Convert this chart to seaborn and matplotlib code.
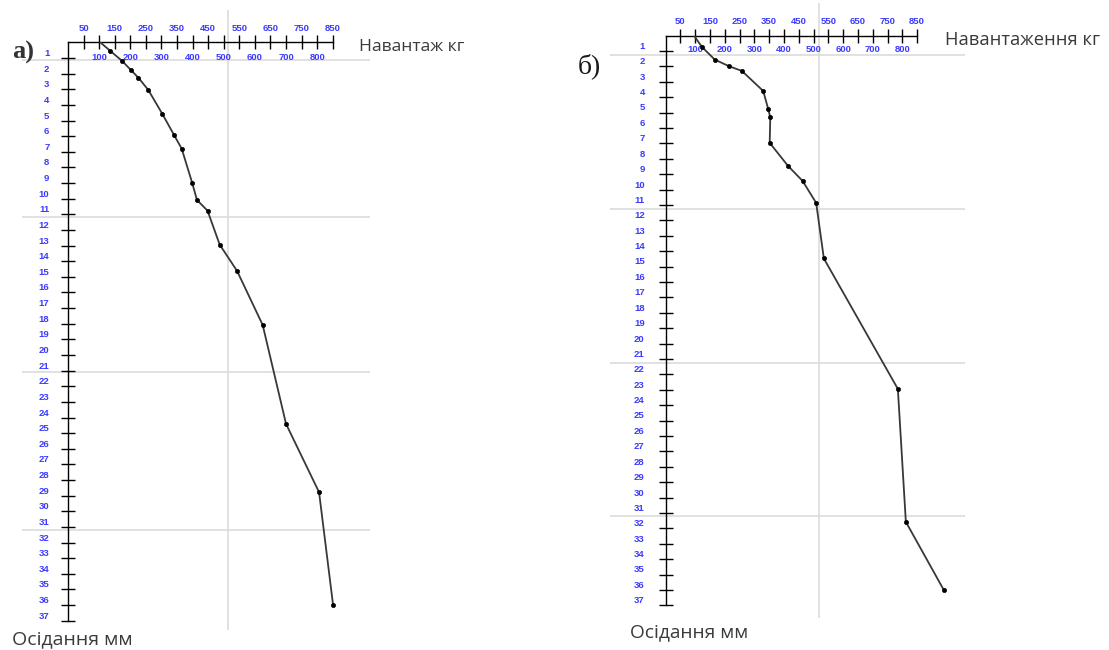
import pandas as pd
import seaborn as sns
import matplotlib.pyplot as plt

# panel а) - load (kg) vs settlement (mm)
load_a = [104, 136, 174, 202, 226, 258, 303, 340, 365, 399, 414, 448, 487, 543, 625, 700, 806, 851]
settle_a = [0, 0.55, 1.19, 1.77, 2.26, 3.05, 4.58, 5.91, 6.80, 9.01, 10.08, 10.77, 12.94,
            14.63, 18.08, 24.41, 28.78, 36.0]

# panel б)
load_b = [96, 123, 166, 214, 258, 330, 347, 354, 352, 414, 463, 509, 535, 785, 812, 940]
settle_b = [0, 0.74, 1.56, 1.99, 2.30, 3.60, 4.77, 5.32, 6.97, 8.47, 9.44, 10.87, 14.48,
            22.95, 31.58, 36.0]

# axis ticks: odd multiples of 50 labelled above the axis, even ones below
load_ticks_top = list(range(50, 851, 100))
load_ticks_below = list(range(100, 801, 100))
settle_ticks = list(range(1, 38))

# light grey page grid lines seen behind both charts
grid_a_h = [1.13, 11.2, 21.1, 31.2]
grid_a_v = [515]
grid_b_h = [1.28, 11.28, 21.27, 31.2]
grid_b_v = [517]

W, H = 1109, 650
BLUE = '#3b3bff'

sns.set_style('white')
plt.rcParams['font.family'] = ['Open Sans', 'DejaVu Sans']

fig = plt.figure(figsize=(W / 100, H / 100), dpi=100)


def rect(left, top, kx, ky, xmax=1000, ymax=38):
    w = xmax * kx
    h = ymax * ky
    return [left / W, 1 - (top + h) / H, w / W, h / H]


def draw_panel(ax, load, settle, gh, gv, hspan, vspan, pads):
    ax.set_xlim(0, 1000)
    ax.set_ylim(38, 0)

    ax.hlines(gh, hspan[0], hspan[1], color='#dcdcdc', lw=1.2, clip_on=False, zorder=0)
    ax.vlines(gv, vspan[0], vspan[1], color='#dcdcdc', lw=1.2, clip_on=False, zorder=0)

    df = pd.DataFrame({'load': load, 'settle': settle})
    sns.lineplot(data=df, x='load', y='settle', sort=False, estimator=None,
                 color='#383838', lw=1.3, ax=ax, zorder=3)
    sns.scatterplot(data=df.iloc[1:], x='load', y='settle', color='black', s=9,
                    edgecolor='black', linewidth=0.5, ax=ax, zorder=4)

    for side in ['right', 'bottom']:
        ax.spines[side].set_visible(False)
    for side in ['top', 'left']:
        ax.spines[side].set_color('black')
        ax.spines[side].set_linewidth(1.0)
    ax.spines['top'].set_bounds(0, 850)
    ax.spines['left'].set_bounds(0, 37)

    ax.set_xticks(load_ticks_top, labels=[str(v) for v in load_ticks_top])
    ax.set_xticks(load_ticks_below, labels=[str(v) for v in load_ticks_below], minor=True)
    ax.set_yticks(settle_ticks, labels=[str(v) for v in settle_ticks])

    ax.tick_params(axis='x', which='both', direction='inout', length=9.5, width=1,
                   color='black', top=True, bottom=False, labeltop=True, labelbottom=False,
                   labelsize=6.8, labelcolor=BLUE)
    ax.tick_params(axis='x', which='major', pad=pads[0])
    ax.tick_params(axis='x', which='minor', pad=pads[1])
    ax.tick_params(axis='y', direction='inout', length=10, width=1, color='black',
                   left=True, right=False, labelsize=6.8, labelcolor=BLUE, pad=pads[2])
    for lab in ax.get_xticklabels(which='both') + ax.get_yticklabels():
        lab.set_family('Liberation Sans')
        lab.set_fontweight('bold')
    for lab in ax.get_yticklabels():
        lab.set_va('bottom')
    ax.set_xlabel('')
    ax.set_ylabel('')


ax_a = fig.add_axes(rect(68, 42.4, 0.3115, 15.63))
draw_panel(ax_a, load_a, settle_a, grid_a_h, grid_a_v, (-147, 970), (-2.07, 37.6),
           (2, -19, 8.4))

ax_b = fig.add_axes(rect(665.5, 35.5, 0.296, 15.4))
draw_panel(ax_b, load_b, settle_b, grid_b_h, grid_b_v, (-186, 1013), (-2.1, 37.8),
           (2, -18.3, 10))


def ftext(x, y, s, **kw):
    fig.text(x / W, 1 - y / H, s, va='center', **kw)


ftext(359, 47, 'Навантаж кг', fontsize=12.6, color='#3a3a3a')
ftext(945, 40, 'Навантаження кг', fontsize=13.2, color='#3a3a3a')
ftext(12, 639, 'Осідання мм', fontsize=14, color='#3a3a3a')
ftext(630, 632, 'Осідання мм', fontsize=13.8, color='#3a3a3a')
ftext(12, 52, 'а)', fontsize=19, fontweight='bold', family='Liberation Serif', color='#333333')
ftext(578, 66, 'б)', fontsize=20, family='Liberation Serif', color='#1a1a1a')

fig.savefig('out.png', dpi=100)
